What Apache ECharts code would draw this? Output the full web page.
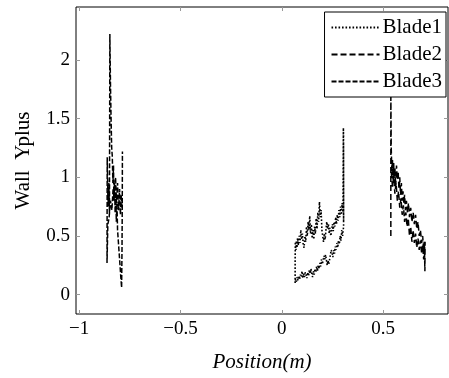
<!DOCTYPE html>
<html>
<head>
<meta charset="utf-8">
<script src="https://cdn.jsdelivr.net/npm/echarts@6/dist/echarts.min.js"></script>
<style>html,body{margin:0;padding:0;background:#fff}#c{width:449px;height:378px}</style>
</head>
<body>
<div id="c"></div>
<script>
const seriesNames = ['Blade1', 'Blade2', 'Blade3'];
const xTicks = [-1, -0.5, 0, 0.5];
const yTicks = [0, 0.5, 1, 1.5, 2];

const blade1X = [0.066,0.066,0.067,0.070,0.072,0.075,0.078,0.082,0.086,0.090,0.094,0.098,0.102,0.106,0.110,0.114,0.118,0.122,0.126,0.130,0.134,0.138,0.142,0.146,0.150,0.154,0.158,0.162,0.166,0.170,0.174,0.178,0.182,0.186,0.190,0.194,0.198,0.202,0.206,0.210,0.214,0.218,0.222,0.226,0.230,0.234,0.238,0.242,0.246,0.250,0.254,0.258,0.262,0.266,0.270,0.274,0.278,0.282,0.286,0.290,0.294,0.298,0.302,0.304,0.305,0.3045,0.305,0.3045,0.305,
0.300,0.296,0.292,0.288,0.284,0.280,0.276,0.272,0.268,0.264,0.260,0.256,0.252,0.248,0.244,0.240,0.236,0.232,0.228,0.224,0.220,0.216,0.212,0.208,0.204,0.200,0.196,0.192,0.188,0.184,0.180,0.176,0.172,0.168,0.164,0.160,0.156,0.152,0.148,0.144,0.140,0.136,0.132,0.128,0.124,0.120,0.116,0.112,0.108,0.104,0.100,0.096,0.092,0.088,0.084,0.080,0.076,0.072,0.068,0.066];
const blade1Y = [0.10,0.30,0.45,0.38,0.46,0.40,0.48,0.42,0.50,0.44,0.55,0.47,0.52,0.42,0.40,0.50,0.45,0.58,0.50,0.62,0.55,0.67,0.52,0.60,0.48,0.55,0.47,0.58,0.52,0.65,0.56,0.70,0.62,0.79,0.66,0.72,0.55,0.50,0.45,0.52,0.47,0.55,0.62,0.56,0.60,0.52,0.57,0.50,0.55,0.60,0.54,0.62,0.58,0.66,0.60,0.68,0.63,0.72,0.66,0.75,0.68,0.78,0.70,1.42,0.65,1.38,0.62,1.30,0.58,
0.50,0.55,0.46,0.50,0.43,0.46,0.40,0.44,0.38,0.41,0.35,0.38,0.32,0.36,0.38,0.34,0.30,0.26,0.29,0.25,0.30,0.34,0.30,0.33,0.29,0.26,0.30,0.24,0.27,0.22,0.25,0.20,0.24,0.19,0.22,0.17,0.20,0.15,0.18,0.22,0.18,0.21,0.16,0.19,0.14,0.17,0.19,0.15,0.18,0.14,0.20,0.15,0.17,0.13,0.16,0.12,0.15,0.11,0.13,0.10];

const blade2X = [0.538,0.538,0.540,0.543,0.546,0.549,0.552,0.555,0.558,0.562,0.566,0.570,0.574,0.578,0.582,0.586,0.590,0.594,0.598,0.602,0.606,0.610,0.615,0.620,0.625,0.630,0.636,0.642,0.648,0.654,0.660,0.666,0.672,0.678,0.684,0.690,0.695,0.700,0.703,0.706,0.707,
0.700,0.695,0.690,0.684,0.678,0.672,0.666,0.660,0.654,0.648,0.642,0.636,0.630,0.624,0.618,0.612,0.606,0.600,0.594,0.588,0.582,0.576,0.570,0.564,0.558,0.552,0.546,0.540];
const blade2Y = [0.50,1.72,1.25,1.05,1.15,0.98,1.12,0.95,1.08,0.92,1.10,0.98,1.05,0.90,1.00,0.85,0.95,0.80,0.88,0.78,0.85,0.72,0.80,0.70,0.78,0.66,0.74,0.62,0.70,0.60,0.68,0.56,0.62,0.50,0.55,0.44,0.50,0.38,0.46,0.20,0.45,
0.30,0.42,0.35,0.46,0.38,0.48,0.40,0.52,0.44,0.55,0.45,0.58,0.50,0.65,0.58,0.70,0.62,0.76,0.68,0.82,0.74,0.88,0.80,0.95,0.86,1.00,0.92,1.05];

const blade3X = [-0.862,-0.861,-0.858,-0.855,-0.853,-0.850,-0.848,-0.845,-0.842,-0.839,-0.836,-0.833,-0.830,-0.828,-0.825,-0.822,-0.819,-0.816,-0.813,-0.810,-0.806,-0.802,-0.798,-0.794,-0.790,-0.788,-0.787,-0.786,-0.787,-0.792,-0.796,-0.800,-0.805,-0.810,-0.815,-0.820,-0.826,-0.832,-0.838,-0.845,-0.852,-0.858,-0.862];
const blade3Y = [0.27,1.17,0.85,0.75,0.95,0.70,2.22,1.80,1.50,1.25,1.18,0.95,1.10,0.80,0.95,0.70,0.85,0.62,0.78,0.55,0.45,0.35,0.25,0.15,0.06,0.40,0.70,1.22,0.72,0.85,0.68,0.90,0.72,0.95,0.78,1.00,0.80,0.90,0.72,0.80,0.65,0.60,0.27];

function pairs(xs, ys){ return xs.map((x,i)=>[x, ys[i]]); }
const fmt = v => v < 0 ? '\u2212' + Math.abs(v) : String(v);
const serif = 'Liberation Serif';

const chart = echarts.init(document.getElementById('c'), null, {renderer:'canvas'});
const tickStyle = {color:'#999', width:1};
const noLine = {show:false, onZero:false};
chart.setOption({
  animation:false,
  backgroundColor:'#fff',
  grid:{left:76, right:1, top:7, bottom:54, show:true, borderColor:'#000', borderWidth:1, backgroundColor:'transparent'},
  legend:{
    orient:'vertical', right:3, top:12,
    data:seriesNames,
    itemWidth:48, itemHeight:14, itemGap:6,
    padding:[5,4,5,6],
    borderColor:'#000', borderWidth:1, backgroundColor:'#fff',
    itemStyle:{opacity:0},
    textStyle:{fontFamily:serif, fontSize:21, color:'#000', padding:[0,0,0,-2]}
  },
  xAxis:[{
    type:'value', min:-1.015, max:0.82,
    name:'Position(m)', nameLocation:'middle', nameGap:38,
    nameTextStyle:{fontFamily:serif, fontStyle:'italic', fontSize:21, color:'#000'},
    axisLine:noLine,
    axisTick:{show:true, inside:true, length:4, lineStyle:tickStyle, customValues:xTicks},
    axisLabel:{fontFamily:serif, fontSize:19, color:'#000', margin:6, formatter:fmt, customValues:xTicks},
    splitLine:{show:false}
  },{
    type:'value', position:'top', min:-1.015, max:0.82,
    axisLine:noLine,
    axisTick:{show:true, inside:true, length:4, lineStyle:tickStyle, customValues:xTicks},
    axisLabel:{show:false},
    splitLine:{show:false}
  }],
  yAxis:[{
    type:'value', min:-0.165, max:2.45,
    name:'Wall  Yplus', nameLocation:'middle', nameGap:42,
    nameTextStyle:{fontFamily:serif, fontSize:21, color:'#000'},
    axisLine:noLine,
    axisTick:{show:true, inside:true, length:4, lineStyle:tickStyle, customValues:yTicks},
    axisLabel:{fontFamily:serif, fontSize:19, color:'#000', margin:6, formatter:fmt, customValues:yTicks},
    splitLine:{show:false}
  },{
    type:'value', position:'right', min:-0.165, max:2.45,
    axisLine:noLine,
    axisTick:{show:true, inside:true, length:4, lineStyle:tickStyle, customValues:yTicks},
    axisLabel:{show:false},
    splitLine:{show:false}
  }],
  series:[
    {name:'Blade1', type:'line', data:pairs(blade1X, blade1Y), showSymbol:false, symbol:'none',
     lineStyle:{color:'#000', width:1.6, type:[1.6,1.9]}, itemStyle:{color:'#000'}, z:3},
    {name:'Blade2', type:'line', data:pairs(blade2X, blade2Y), showSymbol:false, symbol:'none',
     lineStyle:{color:'#000', width:1.5, type:[6,3]}, itemStyle:{color:'#000'}, z:3},
    {name:'Blade3', type:'line', data:pairs(blade3X, blade3Y), showSymbol:false, symbol:'none',
     lineStyle:{color:'#000', width:1.5, type:[5,2]}, itemStyle:{color:'#000'}, z:3}
  ]
});
</script>
</body>
</html>
